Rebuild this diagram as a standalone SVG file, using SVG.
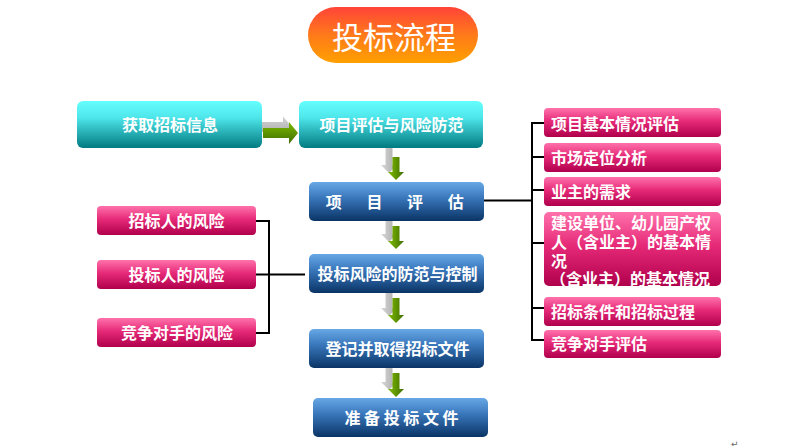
<svg xmlns="http://www.w3.org/2000/svg" width="802" height="448" viewBox="0 0 802 448">
<style>
.t{font-family:"Noto Sans CJK SC","Noto Sans",sans-serif;font-weight:bold;font-size:16px;fill:#fff}
.c{text-anchor:middle}
.ln{stroke:#000;stroke-width:2;fill:none}
.cy{fill:url(#gCyan)}
.bl{fill:url(#gBlue)}
.pk{fill:url(#gPink)}
</style>
<defs>
<linearGradient id="gTitle" x1="0" y1="0" x2="0" y2="1"><stop offset="0" stop-color="#ff4438"/><stop offset="0.5" stop-color="#ff7a1a"/><stop offset="1" stop-color="#ffa000"/></linearGradient>
<linearGradient id="gCyan" x1="0" y1="0" x2="0" y2="1"><stop offset="0" stop-color="#66ffff"/><stop offset="0.35" stop-color="#4ee6ea"/><stop offset="1" stop-color="#007a80"/></linearGradient>
<linearGradient id="gBlue" x1="0" y1="0" x2="0" y2="1"><stop offset="0" stop-color="#68a8e6"/><stop offset="0.4" stop-color="#3a78bc"/><stop offset="1" stop-color="#0a3466"/></linearGradient>
<linearGradient id="gPink" x1="0" y1="0" x2="0" y2="1"><stop offset="0" stop-color="#ff72ac"/><stop offset="0.45" stop-color="#e62a78"/><stop offset="1" stop-color="#b0004c"/></linearGradient>
<linearGradient id="gGreenH" x1="0" y1="0" x2="0" y2="1"><stop offset="0" stop-color="#7cb800"/><stop offset="1" stop-color="#3f6e00"/></linearGradient>
<linearGradient id="gGreenV" x1="0" y1="0" x2="1" y2="0"><stop offset="0" stop-color="#80bc00"/><stop offset="1" stop-color="#3f6e00"/></linearGradient>
<linearGradient id="gGrayH" x1="0" y1="0" x2="0" y2="1"><stop offset="0" stop-color="#d4d4d4"/><stop offset="1" stop-color="#a6a6a6"/></linearGradient>
<linearGradient id="gGrayV" x1="0" y1="0" x2="1" y2="0"><stop offset="0" stop-color="#d8d8d8"/><stop offset="1" stop-color="#a8a8a8"/></linearGradient>
</defs>
<rect width="802" height="448" fill="#fff"/>

<g id="title">
<rect x="308" y="7" width="170" height="56" rx="28" fill="url(#gTitle)"/>
<text x="394" y="49" class="c" font-family="'Noto Sans CJK SC',sans-serif" font-size="31" fill="#fff">投标流程</text>
</g>

<g id="connectors">
<path class="ln" d="M256 221H269V333H256M256 274.5H305"/>
<path class="ln" d="M484 200.5H532M544 123H532V340H544M532 157H544M532 190H544M532 243H544M532 308H544"/>
<g id="arrow-h">
<path fill="url(#gGrayH)" d="M257 122H283V116.5L292 127L283 137.5V132H257Z"/>
<path fill="url(#gGreenH)" d="M263 128H289V122L298 133L289 144V138H263Z"/>
</g>
<g id="arrows-v">
<path fill="url(#gGrayV)" d="M385.5 148H392.5V165H397L389 173L381 165H385.5Z"/>
<path fill="url(#gGreenV)" d="M392.5 157H399.5V172H404L396 180L388 172H392.5Z"/>
<path fill="url(#gGrayV)" d="M385.5 221H392.5V234H397L389 242L381 234H385.5Z"/>
<path fill="url(#gGreenV)" d="M392.5 226H399.5V241H404L396 249L388 241H392.5Z"/>
<path fill="url(#gGrayV)" d="M385.5 293H392.5V308H397L389 316L381 308H385.5Z"/>
<path fill="url(#gGreenV)" d="M392.5 298H399.5V315H404L396 323L388 315H392.5Z"/>
<path fill="url(#gGrayV)" d="M385.5 368H392.5V382H397L389 390L381 382H385.5Z"/>
<path fill="url(#gGreenV)" d="M392.5 373H399.5V389H404L396 397L388 389H392.5Z"/>
</g>
</g>

<g id="n-info"><rect class="cy" x="77" y="101" width="185" height="47" rx="6"/><text class="t c" x="170" y="130.5">获取招标信息</text></g>
<g id="n-eval-risk"><rect class="cy" x="299" y="101" width="184" height="47" rx="6"/><text class="t c" x="391.5" y="130.5">项目评估与风险防范</text></g>

<g id="n-eval"><rect class="bl" x="309" y="182" width="175" height="39" rx="5"/><text class="t c" x="400" y="207.5" letter-spacing="10.5">项 目 评 估</text></g>
<g id="n-control"><rect class="bl" x="309" y="254" width="175" height="39" rx="5"/><text class="t c" x="397.5" y="279.5">投标风险的防范与控制</text></g>
<g id="n-register"><rect class="bl" x="309" y="329" width="175" height="39" rx="5"/><text class="t c" x="397.5" y="354.5">登记并取得招标文件</text></g>
<g id="n-prepare"><rect class="bl" x="313" y="398" width="175" height="39" rx="5"/><text class="t c" x="401.5" y="423.5">准 备 投 标 文 件</text></g>

<g id="n-risk1"><rect class="pk" x="97" y="206" width="159" height="29" rx="4"/><text class="t c" x="176.5" y="226.5">招标人的风险</text></g>
<g id="n-risk2"><rect class="pk" x="97" y="260" width="159" height="29" rx="4"/><text class="t c" x="176.5" y="280.5">投标人的风险</text></g>
<g id="n-risk3"><rect class="pk" x="97" y="318" width="159" height="29" rx="4"/><text class="t c" x="177" y="338.5">竞争对手的风险</text></g>

<g id="n-r1"><rect class="pk" x="544" y="108" width="177" height="29" rx="4"/><text class="t" x="551" y="130">项目基本情况评估</text></g>
<g id="n-r2"><rect class="pk" x="544" y="143" width="177" height="29" rx="4"/><text class="t" x="551" y="164">市场定位分析</text></g>
<g id="n-r3"><rect class="pk" x="544" y="177" width="177" height="29" rx="4"/><text class="t" x="551" y="197.5">业主的需求</text></g>
<g id="n-r4"><rect class="pk" x="544" y="212" width="177" height="74" rx="5"/>
<text class="t"><tspan x="551" y="229">建设单位、幼儿园产权</tspan><tspan x="551" y="248">人（含业主）的基本情</tspan><tspan x="551" y="266.5">况</tspan><tspan x="550" y="285">（含业主）的基本情况</tspan></text></g>
<g id="n-r5"><rect class="pk" x="544" y="297" width="177" height="29" rx="4"/><text class="t" x="551" y="317.5">招标条件和招标过程</text></g>
<g id="n-r6"><rect class="pk" x="544" y="330" width="177" height="28" rx="4"/><text class="t" x="551" y="350">竞争对手评估</text></g>

<text x="731" y="447" font-family="'DejaVu Sans',sans-serif" font-size="9" fill="#666">↵</text>
</svg>
